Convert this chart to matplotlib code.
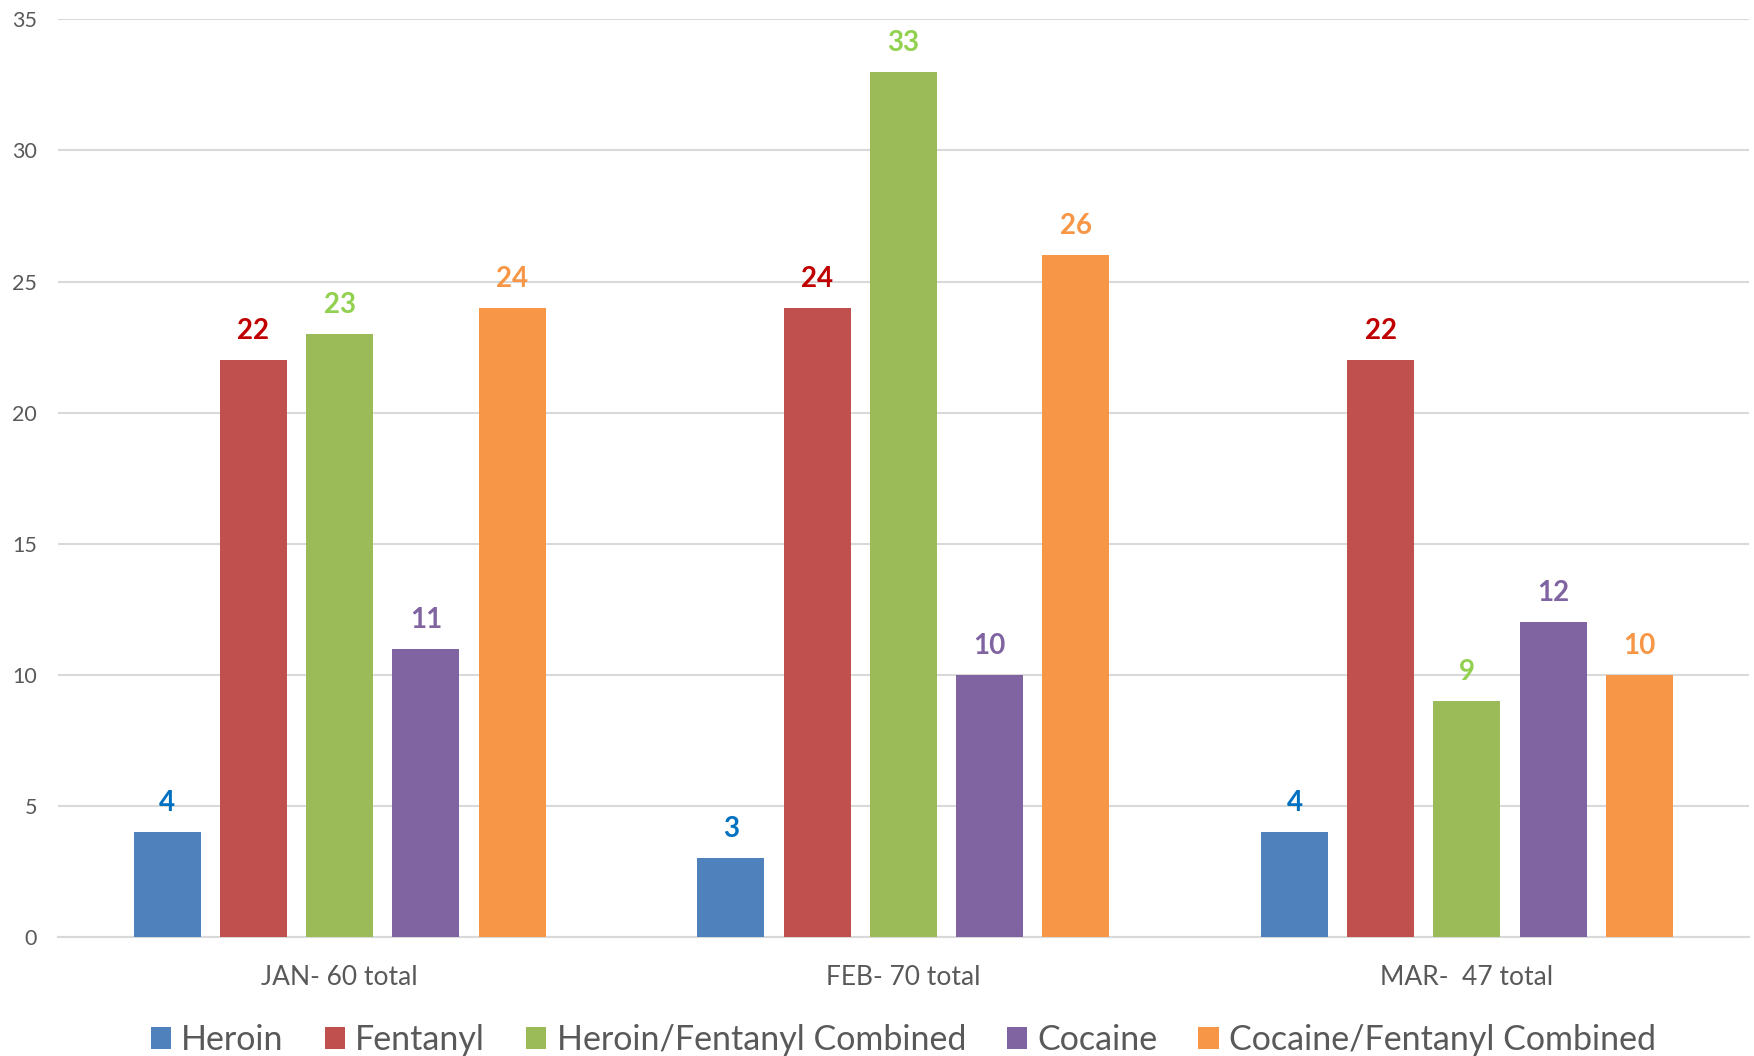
import numpy as np
import matplotlib.pyplot as plt

plt.rcParams['font.family'] = ['Lato', 'DejaVu Sans']

months = ['JAN- 60 total', 'FEB- 70 total', 'MAR-  47 total']
drugs = ['Heroin', 'Fentanyl', 'Heroin/Fentanyl Combined', 'Cocaine', 'Cocaine/Fentanyl Combined']
heroin = [4, 3, 4]
fentanyl = [22, 24, 22]
heroin_fent = [23, 33, 9]
cocaine = [11, 10, 12]
cocaine_fent = [24, 26, 10]

bar_cols = ['#4F81BD', '#C0504D', '#9BBB59', '#8064A2', '#F79646']
lbl_cols = ['#0070C0', '#C00000', '#92D050', '#8064A2', '#F79646']
series = [heroin, fentanyl, heroin_fent, cocaine, cocaine_fent]

fig = plt.figure(figsize=(17.54, 10.56), dpi=100)
ax = fig.add_axes([0.033, 0.1127, 0.964, 0.869])

x = np.arange(len(months))
pitch = 0.153
w = 0.119
for i, s in enumerate(series):
    xs = x + (i - 2) * pitch
    ax.bar(xs, s, width=w, color=bar_cols[i], label=drugs[i], zorder=3)
    for xi, v in zip(xs, s):
        ax.annotate(str(v), (xi, v), xytext=(0, 21), textcoords='offset pixels',
                    ha='center', va='baseline', fontsize=20, fontweight='bold',
                    color=lbl_cols[i])

ax.set_xlim(-0.5, 2.5)
ax.set_ylim(0, 35)
ax.set_yticks(range(0, 36, 5))
ax.set_xticks(x)
ax.set_xticklabels(months)
ax.grid(axis='y', color='#D9D9D9', linewidth=1.5, zorder=0)
for sp in ['top', 'right', 'left']:
    ax.spines[sp].set_visible(False)
ax.spines['bottom'].set_color('#D9D9D9')
ax.spines['bottom'].set_linewidth(1.5)
ax.tick_params(axis='both', length=0, colors='#595959')
ax.tick_params(axis='y', labelsize=15.5, pad=15)
ax.tick_params(axis='x', labelsize=19, pad=20)

ax.legend(loc='center', bbox_to_anchor=(0.5, -0.112), ncol=5, frameon=False,
          fontsize=24.5, handlelength=0.6, handleheight=0.6, handletextpad=0.3,
          columnspacing=1.2, labelcolor='#595959', borderpad=0)

fig.savefig('out.png', dpi=100)
